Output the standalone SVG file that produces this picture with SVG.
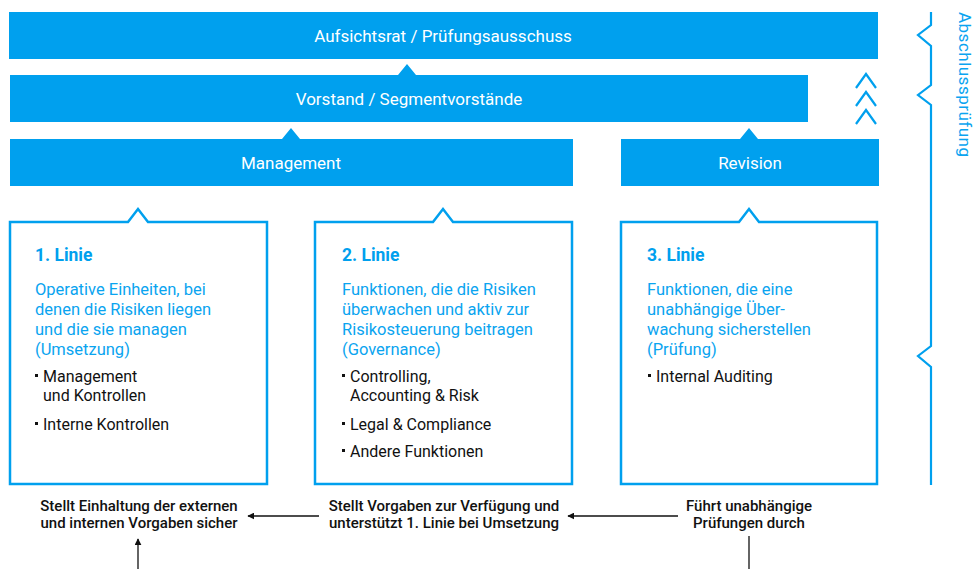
<svg xmlns="http://www.w3.org/2000/svg" width="978" height="569" viewBox="0 0 978 569">
<defs>
<style>
.bar{fill:#00A0EE}
.bt{font-family:Roboto,"Liberation Sans",sans-serif;font-size:17px;fill:#fff;text-anchor:middle}
.box{fill:#fff;stroke:#00A0EE;stroke-width:2.5}
.h{font-family:Roboto,"Liberation Sans",sans-serif;font-size:17.5px;font-weight:bold;fill:#00A0EE}
.d{font-family:Roboto,"Liberation Sans",sans-serif;font-size:16.5px;fill:#0AA4F0}
.li{font-family:Roboto,"Liberation Sans",sans-serif;font-size:16px;fill:#111}
.cap{font-family:Roboto,"Liberation Sans",sans-serif;font-size:15px;font-weight:500;fill:#111;text-anchor:middle}
.sq{fill:#111}
.ln{stroke:#111;stroke-width:1.3;fill:none}
.br{stroke:#00A0EE;stroke-width:2.2;fill:none}
</style>
<marker id="ah" viewBox="0 0 10 10" refX="9" refY="5" markerWidth="7" markerHeight="7" orient="auto-start-reverse" markerUnits="userSpaceOnUse">
<path d="M0,0 L10,5 L0,10 Z" fill="#111"/>
</marker>
</defs>

<g id="aufsichtsrat">
<rect class="bar" x="9" y="12" width="869" height="47"/>
<text class="bt" x="443" y="42">Aufsichtsrat / Prüfungsausschuss</text>
</g>

<g id="vorstand">
<path class="bar" d="M10,75 L398,75 L407,64 L416,75 L808,75 L808,122 L10,122 Z"/>
<text class="bt" x="409" y="105">Vorstand / Segmentvorstände</text>
</g>

<g id="management">
<path class="bar" d="M10,139 L282,139 L291,128 L300,139 L573,139 L573,186 L10,186 Z"/>
<text class="bt" x="291" y="169">Management</text>
</g>

<g id="revision">
<path class="bar" d="M621,139 L740,139 L749,128 L758,139 L879,139 L879,186 L621,186 Z"/>
<text class="bt" x="750" y="169">Revision</text>
</g>

<g id="chevrons">
<path class="br" d="M856,88 L866,74 L876,88 M856,106 L866,92 L876,106 M856,124 L866,110 L876,124"/>
</g>

<g id="abschlusspruefung">
<path class="br" d="M931,12 L931,25 L918,35 L931,46 L931,85 L918,95 L931,105 L931,346 L918,356 L931,367 L931,485"/>
<text transform="translate(959,12) rotate(90)" textLength="145" style="font-family:Roboto,'Liberation Sans',sans-serif;font-size:17px;fill:#0AA4F0">Abschlussprüfung</text>
</g>

<g id="linie1">
<path class="box" d="M10,222 L128,222 L138,209 L148,222 L267,222 L267,484 L10,484 Z"/>
<text class="h" x="35" y="261">1. Linie</text>
<text class="d" x="35" y="295">Operative Einheiten, bei</text>
<text class="d" x="35" y="315">denen die Risiken liegen</text>
<text class="d" x="35" y="335">und die sie managen</text>
<text class="d" x="35" y="355">(Umsetzung)</text>
<rect class="sq" x="35" y="374" width="3" height="3"/>
<text class="li" x="43" y="382">Management</text>
<text class="li" x="43" y="401">und Kontrollen</text>
<rect class="sq" x="35" y="422" width="3" height="3"/>
<text class="li" x="43" y="430">Interne Kontrollen</text>
</g>

<g id="linie2">
<path class="box" d="M315,222 L433,222 L443,209 L453,222 L572,222 L572,484 L315,484 Z"/>
<text class="h" x="342" y="261">2. Linie</text>
<text class="d" x="342" y="295">Funktionen, die die Risiken</text>
<text class="d" x="342" y="315">überwachen und aktiv zur</text>
<text class="d" x="342" y="335">Risikosteuerung beitragen</text>
<text class="d" x="342" y="355">(Governance)</text>
<rect class="sq" x="342" y="374" width="3" height="3"/>
<text class="li" x="350" y="382">Controlling,</text>
<text class="li" x="350" y="401">Accounting &amp; Risk</text>
<rect class="sq" x="342" y="422" width="3" height="3"/>
<text class="li" x="350" y="430">Legal &amp; Compliance</text>
<rect class="sq" x="342" y="449" width="3" height="3"/>
<text class="li" x="350" y="457">Andere Funktionen</text>
</g>

<g id="linie3">
<path class="box" d="M621,222 L739,222 L749,209 L759,222 L877,222 L877,484 L621,484 Z"/>
<text class="h" x="647" y="261">3. Linie</text>
<text class="d" x="647" y="295">Funktionen, die eine</text>
<text class="d" x="647" y="315">unabhängige Über-</text>
<text class="d" x="647" y="335">wachung sicherstellen</text>
<text class="d" x="647" y="355">(Prüfung)</text>
<rect class="sq" x="648" y="374" width="3" height="3"/>
<text class="li" x="656" y="382">Internal Auditing</text>
</g>

<g id="cap1">
<text class="cap" x="139" y="511">Stellt Einhaltung der externen</text>
<text class="cap" x="139" y="528">und internen Vorgaben sicher</text>
</g>
<g id="cap2">
<text class="cap" x="444" y="511">Stellt Vorgaben zur Verfügung und</text>
<text class="cap" x="444" y="528">unterstützt 1. Linie bei Umsetzung</text>
</g>
<g id="cap3">
<text class="cap" x="749" y="511">Führt unabhängige</text>
<text class="cap" x="749" y="528">Prüfungen durch</text>
</g>

<g id="connectors">
<line class="ln" x1="319" y1="516" x2="248" y2="516" marker-end="url(#ah)"/>
<line class="ln" x1="678" y1="516" x2="568" y2="516" marker-end="url(#ah)"/>
<line class="ln" x1="138" y1="569" x2="138" y2="539" marker-end="url(#ah)"/>
<line class="ln" x1="749" y1="536" x2="749" y2="569"/>
</g>
</svg>
